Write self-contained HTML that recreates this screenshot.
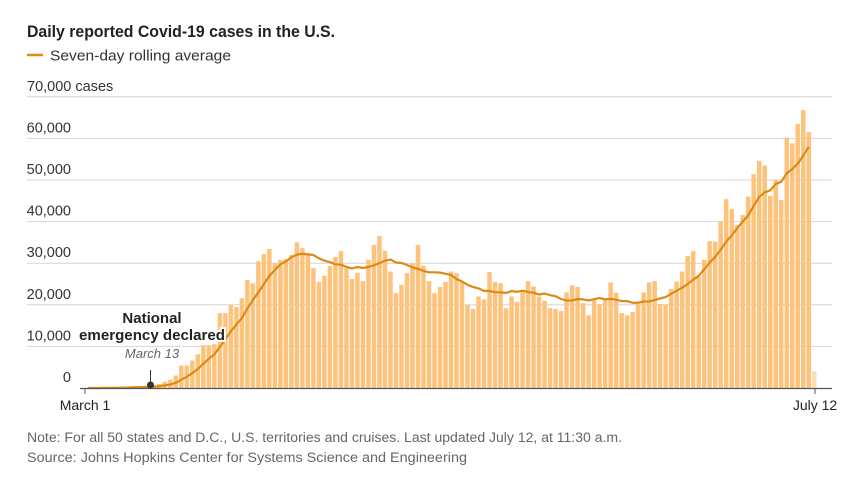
<!DOCTYPE html>
<html><head><meta charset="utf-8"><style>
html,body{margin:0;padding:0;background:#fff;}
svg{display:block;font-family:"Liberation Sans",sans-serif;}
</style></head><body>
<svg id="c" width="865" height="482" viewBox="0 0 865 482" xmlns="http://www.w3.org/2000/svg">
<text x="27" y="37" font-size="17" font-weight="bold" fill="#222" textLength="308" lengthAdjust="spacingAndGlyphs">Daily reported Covid-19 cases in the U.S.</text>
<line x1="27" y1="55" x2="43" y2="55" stroke="#e08a12" stroke-width="2.5"/>
<text x="50" y="60.5" font-size="15" fill="#333" textLength="181" lengthAdjust="spacingAndGlyphs">Seven-day rolling average</text>
<g id="grid"></g>
<g id="bars"></g>
<path id="avg" fill="none" stroke="#dc8a14" stroke-width="2.2" stroke-linejoin="round"/>
<line x1="80" y1="388.5" x2="832" y2="388.5" stroke="#555" stroke-width="1.2"/>
<line x1="85" y1="389" x2="85" y2="394" stroke="#555"/>
<line x1="815" y1="389" x2="815" y2="394" stroke="#555"/>
<text x="85" y="410" font-size="14" fill="#222" text-anchor="middle">March 1</text>
<text x="815" y="410" font-size="14" fill="#222" text-anchor="middle">July 12</text>
<line x1="150.5" y1="370" x2="150.5" y2="385" stroke="#333"/>
<circle cx="150.5" cy="385" r="3.5" fill="#333"/>
<text x="152" y="323" font-size="15" font-weight="bold" fill="#222" text-anchor="middle" stroke="#fff" stroke-width="4" paint-order="stroke">National</text>
<text x="152" y="340" font-size="15" font-weight="bold" fill="#222" text-anchor="middle" stroke="#fff" stroke-width="4" paint-order="stroke" textLength="146" lengthAdjust="spacingAndGlyphs">emergency declared</text>
<text x="152" y="358" font-size="13" font-style="italic" fill="#666" text-anchor="middle" stroke="#fff" stroke-width="3" paint-order="stroke">March 13</text>
<text x="27" y="442" font-size="13.5" fill="#666" textLength="595" lengthAdjust="spacingAndGlyphs">Note: For all 50 states and D.C., U.S. territories and cruises. Last updated July 12, at 11:30 a.m.</text>
<text x="27" y="462" font-size="13.5" fill="#666" textLength="440" lengthAdjust="spacingAndGlyphs">Source: Johns Hopkins Center for Systems Science and Engineering</text>
</svg>
<script>
var d=[0,0,0,0.1,0.1,0.1,0.2,0.2,0.3,0.3,0.3,0.4,0.6,1.0,1.5,2.0,3.0,5.4,5.4,6.6,8.1,10.3,10.3,10.5,
18,18,20,19.5,21.6,26,25.2,30.5,32.2,33.4,30,30.8,31,32,35,33.6,32.4,28.8,25.5,27,29.3,31.5,32.9,28.8,26.2,27.7,25.7,30.8,34.4,36.5,33,28,22.8,24.8,27.6,30,34.4,29.4,25.7,22.8,24.3,25.5,28,27.6,
25.5,20,19,22,21.3,27.9,25.5,25.2,19.2,22,20.7,23.2,25.7,24.4,22,21,19.2,19,18.5,23,24.7,24.3,20.4,17.5,21.1,20.2,21.1,25.4,22.9,18,17.5,18.3,20.4,23,25.4,25.7,20.2,20,23.8,25.6,28,31.7,32.9,26.8,30.8,35.3,35.2,40.1,45.4,43,39.2,41.6,46,51.4,54.6,53.5,46.2,50,45.2,60.2,58.8,63.5,66.8,61.5,4];
var NS="http://www.w3.org/2000/svg",x0=85,w=(817-85)/d.length,y0=388,k=4.16;
function el(t,a,p){var e=document.createElementNS(NS,t);for(var i in a)e.setAttribute(i,a[i]);if(p)p.appendChild(e);return e;}
var g=document.getElementById("grid");
for(var v=1;v<=7;v++){var y=y0-v*10*k;el("line",{x1:27,y1:y,x2:832,y2:y,stroke:"#d6d6d6","stroke-width":1},g);
var t=el("text",{x:v==7?27:71,y:y-6,"font-size":14.5,fill:"#333","text-anchor":v==7?"start":"end"},g);t.textContent=v==7?"70,000 cases":(v*10)+",000";}
var t0=el("text",{x:71,y:y0-6,"font-size":14.5,fill:"#333","text-anchor":"end"},g);t0.textContent="0";
var b=document.getElementById("bars");
for(var i=0;i<d.length;i++){var h=d[i]*k;el("rect",{x:x0+i*w+0.5,y:y0-h,width:w-1,height:h,fill:i==d.length-1?"#fde0b8":"#fdc37c"},b);}
var p="";for(var i=0;i<d.length-1;i++){var s=0,n=0;for(var j=Math.max(0,i-6);j<=i;j++){s+=d[j];n++;}var a=s/n;p+=(i?"L":"M")+(x0+i*w+w/2).toFixed(1)+","+(y0-a*k).toFixed(1);}
document.getElementById("avg").setAttribute("d",p);
</script>
</body></html>
